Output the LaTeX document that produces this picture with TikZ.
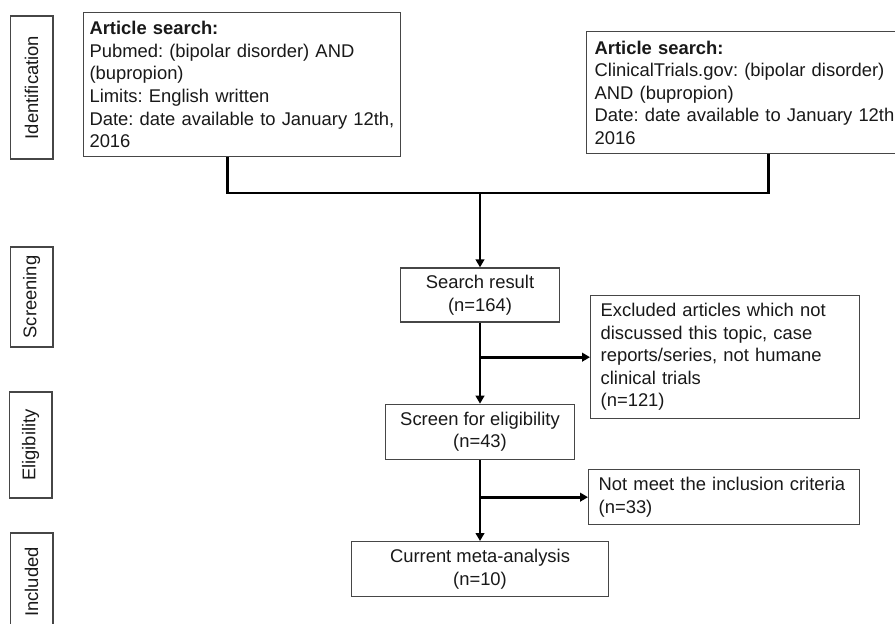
\documentclass[tikz,border=0pt]{standalone}
\usepackage{fontspec}
\setmainfont{Liberation Sans}
\usetikzlibrary{arrows.meta, positioning}
\definecolor{boxline}{RGB}{70,70,70}
\definecolor{inktext}{RGB}{25,25,25}
\tikzset{
  pr/phase/.style={rectangle, draw=boxline, line width=1pt, rotate=90,
    minimum width=#1, minimum height=32pt, inner sep=0pt,
    font=\fontsize{13.8}{16.9}\selectfont\frenchspacing\color{inktext}},
  pr/query/.style={rectangle, draw=boxline, line width=1pt, fill=white,
    align=left, inner xsep=4.4pt, inner ysep=0pt,
    font=\fontsize{13.8}{16.9}\selectfont\frenchspacing\color{inktext}},
  pr/step/.style={rectangle, draw=boxline, line width=1pt, fill=white,
    align=center, inner sep=0pt, minimum height=41.25pt,
    font=\fontsize{13.8}{16.9}\selectfont\frenchspacing\color{inktext}},
  pr/out/.style={rectangle, draw=boxline, line width=1pt, fill=white,
    align=left, inner xsep=7.5pt, inner ysep=0pt,
    font=\fontsize{13.8}{16.9}\selectfont\frenchspacing\color{inktext}},
  pr/link/.style={line width=2.2pt, draw=black},
  pr/arr/.style={-{Triangle[length=6pt,width=6.5pt]}, line width=2.2pt,
    draw=black}
}
\begin{document}
\begin{tikzpicture}[x=0.75pt, y=-0.75pt, node distance=60.75pt]
  \useasboundingbox (0,0) rectangle (895,624);
  \node[pr/phase=107.25pt] (ident) at (31.5,87.5) {Identification};
  \node[pr/phase=75pt] (screening) at (31.5,297) {Screening};
  \node[pr/phase=79.5pt] (elig) at (30.5,445) {Eligibility};
  \node[pr/phase=73.5pt] (incl) at (31.5,582) {Included};

  \node[pr/query, anchor=north west, text width=229pt, minimum height=108pt]
    (pubmed) at (83,12) {\textbf{Article search:}\\
    Pubmed: (bipolar disorder) AND\\ (bupropion)\\ Limits: English written\\
    Date: date available to January 12th,\\ 2016};
  \node[pr/query, anchor=north west, text width=240pt, minimum height=91.5pt,
    inner xsep=6pt] (ctgov) at (586,31) {\textbf{Article search:}\\
    ClinicalTrials.gov: (bipolar disorder)\\ AND (bupropion)\\
    Date: date available to January 12th,\\ 2016};
  \coordinate (join) at (480,193);

  \node[pr/step, minimum width=119.25pt, minimum height=40.5pt] (search)
    at (480,295) {Search result\\ (n=164)};
  \node[pr/step, minimum width=141.75pt, below=of search] (screen)
    {Screen for eligibility\\ (n=43)};
  \node[pr/step, minimum width=192.75pt, below=of screen] (current)
    {Current meta-analysis\\ (n=10)};
  \node[pr/out, anchor=north west, text width=186.75pt, minimum height=92.25pt]
    (excl) at (590,295) {Excluded articles which not\\
    discussed this topic, case\\ reports/series, not humane\\
    clinical trials\\ (n=121)};
  \node[pr/out, anchor=north west, text width=188.25pt, minimum height=41.25pt]
    (notmeet) at (588,469) {Not meet the inclusion criteria\\ (n=33)};

  \draw[pr/link] ([xshift=-10.9pt]pubmed.south) |- (join);
  \draw[pr/link] ([xshift=10.3pt]ctgov.south) |- (join);
  \draw[pr/arr] (join) -- (search);
  \draw[pr/arr] (search) -- (screen);
  \draw[pr/arr] (screen) -- (current);
  \draw[pr/arr] (search.south |- excl.west) -- (excl.west);
  \draw[pr/arr] (screen.south |- notmeet.west) -- (notmeet.west);
\end{tikzpicture}
\end{document}
